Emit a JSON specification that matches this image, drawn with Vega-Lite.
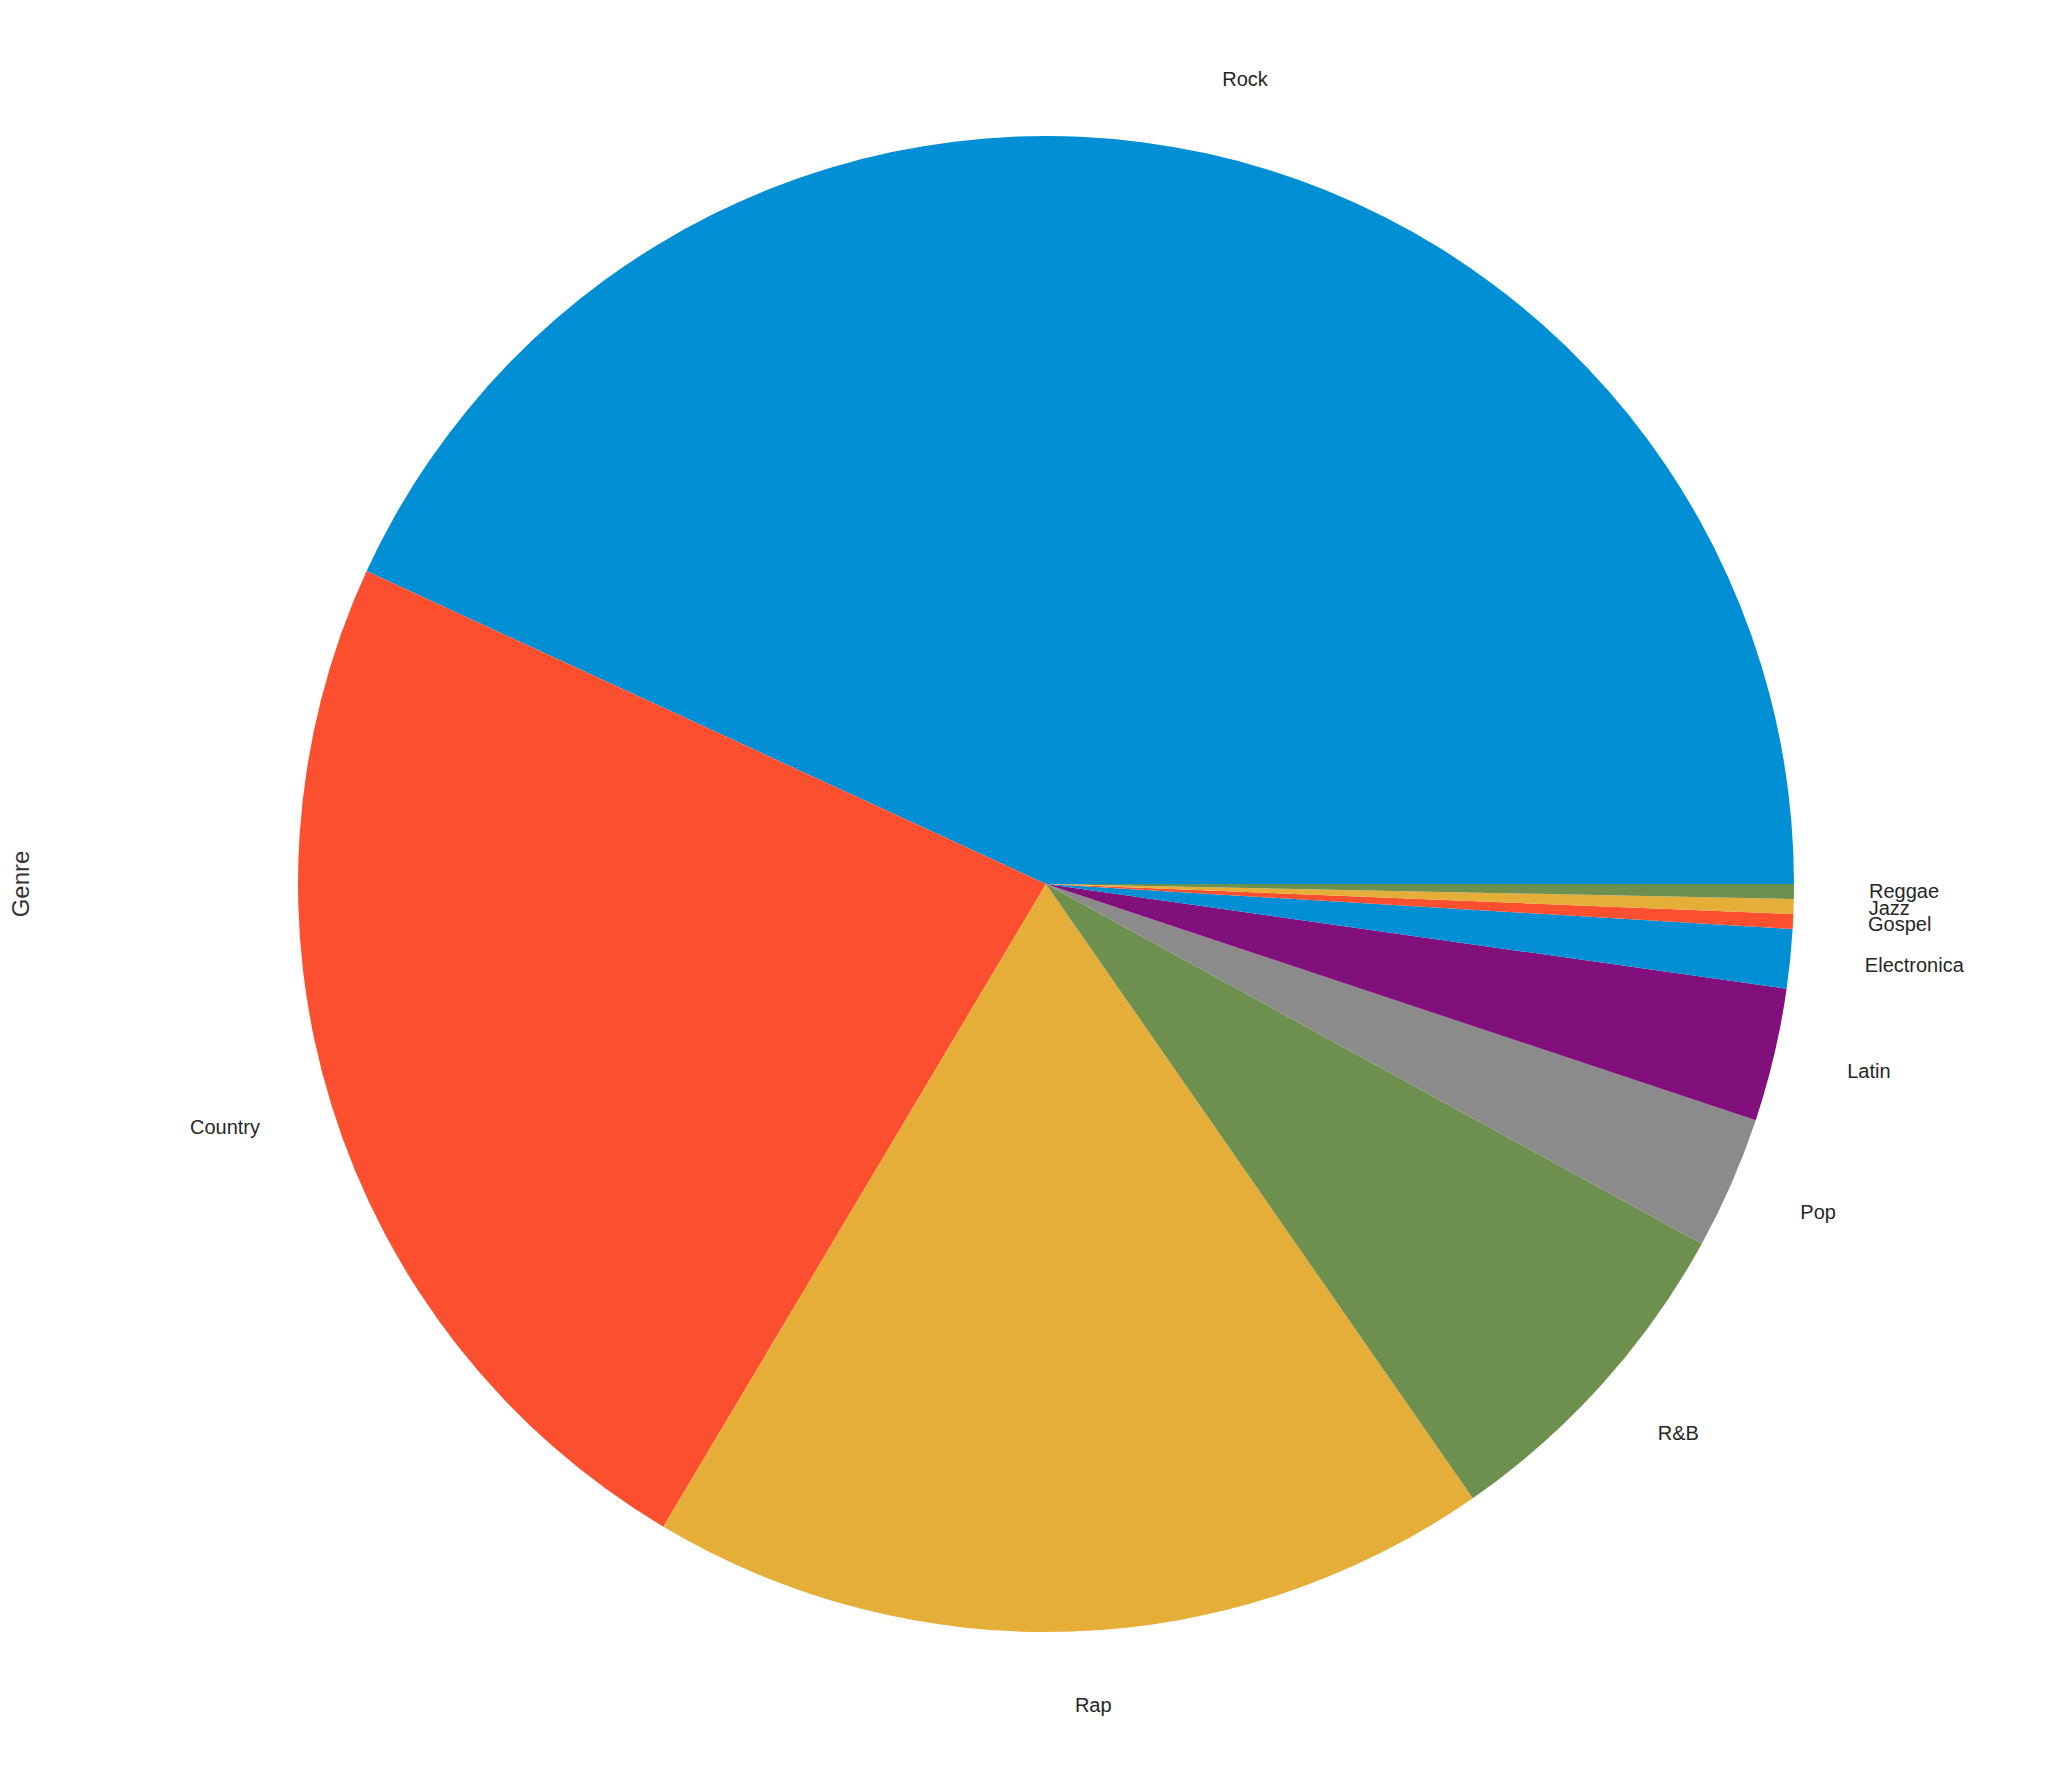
{
  "$schema": "https://vega.github.io/schema/vega-lite/v6.json",
  "width": 2036,
  "height": 1768,
  "autosize": "none",
  "padding": {"left": 28, "top": 0, "right": 0, "bottom": 0},
  "background": "white",
  "config": {"view": {"stroke": null}},
  "title": {"text": "Genre", "orient": "left", "anchor": "middle", "offset": -6, "fontSize": 24, "font": "Liberation Sans", "fontWeight": "normal", "color": "#333333"},
  "data": {
    "values": [
      {"Genre": "Rock", "Count": 135, "Order": 1},
      {"Genre": "Country", "Count": 73, "Order": 2},
      {"Genre": "Rap", "Count": 57, "Order": 3},
      {"Genre": "R&B", "Count": 23, "Order": 4},
      {"Genre": "Pop", "Count": 9, "Order": 5},
      {"Genre": "Latin", "Count": 9, "Order": 6},
      {"Genre": "Electronica", "Count": 4, "Order": 7},
      {"Genre": "Gospel", "Count": 1, "Order": 8},
      {"Genre": "Jazz", "Count": 1, "Order": 9},
      {"Genre": "Reggae", "Count": 1, "Order": 10}
    ]
  },
  "encoding": {
    "theta": {"field": "Count", "type": "quantitative", "stack": true, "scale": {"range": [1.5707963, -4.712389]}},
    "order": {"field": "Order", "type": "quantitative"}
  },
  "layer": [
    {
      "mark": {"type": "arc", "outerRadius": 748, "strokeWidth": 0},
      "encoding": {
        "color": {
          "field": "Genre", "type": "nominal", "legend": null,
          "scale": {
            "domain": ["Rock", "Country", "Rap", "R&B", "Pop", "Latin", "Electronica", "Gospel", "Jazz", "Reggae"],
            "range": ["#008fd5", "#fc4f30", "#e5ae38", "#6d904f", "#8b8b8b", "#810f7c", "#008fd5", "#fc4f30", "#e5ae38", "#6d904f"]
          }
        }
      }
    },
    {
      "mark": {"type": "text", "radius": 823, "align": "left", "baseline": "middle", "fontSize": 20, "font": "Liberation Sans", "color": "#262626"},
      "encoding": {
        "text": {"condition": {"test": "datum.Genre == 'Country'", "value": ""}, "field": "Genre", "type": "nominal"}
      }
    },
    {
      "mark": {"type": "text", "radius": 823, "align": "right", "baseline": "middle", "fontSize": 20, "font": "Liberation Sans", "color": "#262626"},
      "encoding": {
        "text": {"condition": {"test": "datum.Genre == 'Country'", "field": "Genre", "type": "nominal"}, "value": ""}
      }
    }
  ]
}
